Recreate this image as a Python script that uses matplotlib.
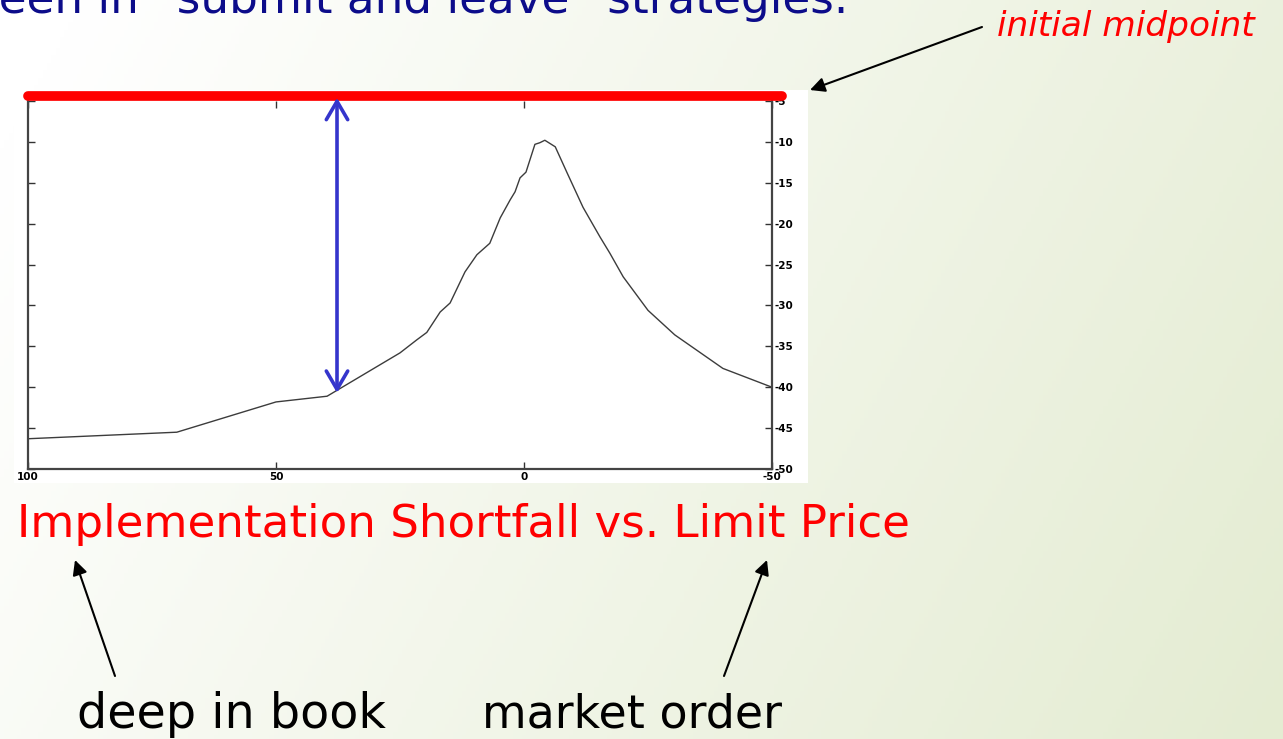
import numpy as np
import matplotlib
matplotlib.use("Agg")
import matplotlib.pyplot as plt
from matplotlib.patches import Rectangle, FancyArrowPatch

# ---------------- data ----------------
limit_price = [100, 70, 50, 39.7, 25, 21.6, 19.6, 16.9, 14.9, 11.9, 9.5, 6.9, 4.8, 2.8,
               1.8, 0.8, -0.4, -2.2, -3.2, -4.2, -6.3, -8.7, -11.9, -15.3, -17.3, -20,
               -25, -30.4, -40.1, -50]
shortfall = [-46.3, -45.5, -41.8, -41.1, -35.8, -34.2, -33.3, -30.8, -29.7, -25.9, -23.8,
             -22.4, -19.3, -17.1, -16.1, -14.4, -13.7, -10.3, -10.1, -9.8, -10.6, -13.8,
             -18.0, -21.6, -23.6, -26.5, -30.6, -33.6, -37.7, -40.0]
x_ticks = [100, 50, 0, -50]
x_tick_labels = ["100", "50", "0", "-50"]
y_ticks = [-5, -10, -15, -20, -25, -30, -35, -40, -45, -50]
y_tick_labels = ["-5", "-10", "-15", "-20", "-25", "-30", "-35", "-40", "-45", "-50"]
midpoint_level = -4.4
midpoint_span = [100, -52]
gap_x = 37.7
gap_top, gap_bottom = -4.6, -40.7

title = "Implementation Shortfall vs. Limit Price"
top_text = "seen in \u201csubmit and leave\u201d strategies."
label_mid = "initial midpoint"
label_deep = "deep in book"
label_market = "market order"

W, H = 1283, 739
fig = plt.figure(figsize=(W / 100, H / 100), dpi=100)
renderer = fig.canvas.get_renderer()

# background gradient
bg = fig.add_axes([0, 0, 1, 1], zorder=-10)
xx, yy = np.meshgrid(np.linspace(0, 1, 300), np.linspace(0, 1, 200))
t = np.clip(0.8 * xx + 0.25 * yy - 0.05, 0, 1)
c0 = np.array([1.0, 1.0, 1.0])
c1 = np.array([228, 236, 210]) / 255.0
img = c0[None, None, :] * (1 - t[..., None]) + c1[None, None, :] * t[..., None]
bg.imshow(img, extent=[0, 1, 0, 1], aspect="auto", origin="upper")
bg.set_axis_off()

# white panel behind chart
fig.patches.append(Rectangle((14 / W, (H - 483) / H), 794 / W, 393 / H,
                             transform=fig.transFigure, facecolor="white",
                             edgecolor="none", zorder=-5))

ax = fig.add_axes([28 / W, (H - 469) / H, 744 / W, 368 / H])
ax.set_facecolor("white")
ax.plot(limit_price, shortfall, color="#3c3c3c", lw=1.0)
ax.set_xlim(100, -50)
ax.set_ylim(-50, -5)
ax.set_xticks(x_ticks)
ax.set_xticklabels(x_tick_labels, fontsize=7.5, fontweight="bold")
ax.set_yticks(y_ticks)
ax.set_yticklabels(y_tick_labels, fontsize=7.5, fontweight="bold")
ax.yaxis.tick_right()
ax.tick_params(axis="both", direction="in", length=5, width=1, color="#333333",
               pad=2)
ax.tick_params(axis="y", left=True, right=True, labelleft=False, labelright=True)
ax.tick_params(axis="x", top=True, bottom=True)
for s in ["left", "bottom", "right"]:
    ax.spines[s].set_color("#444444")
    ax.spines[s].set_linewidth(1.6)
ax.spines["top"].set_visible(False)

# red midpoint line
ax.plot(midpoint_span, [midpoint_level, midpoint_level], color="#ff0000", lw=7,
        solid_capstyle="round", clip_on=False, zorder=5)

# blue double arrow
ax.annotate("", xy=(gap_x, gap_top), xytext=(gap_x, gap_bottom),
            arrowprops=dict(arrowstyle="<->,head_length=0.6,head_width=0.35",
                            color="#3535cc", lw=2.6, mutation_scale=22,
                            shrinkA=0, shrinkB=0),
            annotation_clip=False, zorder=6)

font = "DejaVu Sans"


def px(x, y):
    return (x / W, (H - y) / H)


def fitted_text(x, y, s, target_w, **kw):
    txt = fig.text(*px(x, y), s, fontsize=30, family=font, **kw)
    w = txt.get_window_extent(renderer=renderer).width
    txt.set_fontsize(30 * target_w / w)
    return txt


fitted_text(17, 537, title, 891, color="#ff0000", ha="left", va="baseline")
fitted_text(848, 13, top_text, 872, color="#0c0c8a", ha="right", va="baseline")
fitted_text(1255, 36, label_mid, 258, color="#ff0000", style="italic",
            ha="right", va="baseline")
fitted_text(77, 728, label_deep, 308, color="black", ha="left", va="baseline")
fitted_text(482, 728, label_market, 300, color="black", ha="left", va="baseline")

arrow_kw = dict(arrowstyle="-|>", color="black", lw=1.5, mutation_scale=22,
                shrinkA=0, shrinkB=0)
fig.add_artist(FancyArrowPatch(px(982, 27), px(810, 90),
                               transform=fig.transFigure, **arrow_kw))
fig.add_artist(FancyArrowPatch(px(115, 676), px(75, 560),
                               transform=fig.transFigure, **arrow_kw))
fig.add_artist(FancyArrowPatch(px(724, 676), px(767, 560),
                               transform=fig.transFigure, **arrow_kw))

fig.savefig("out.png", dpi=100)
